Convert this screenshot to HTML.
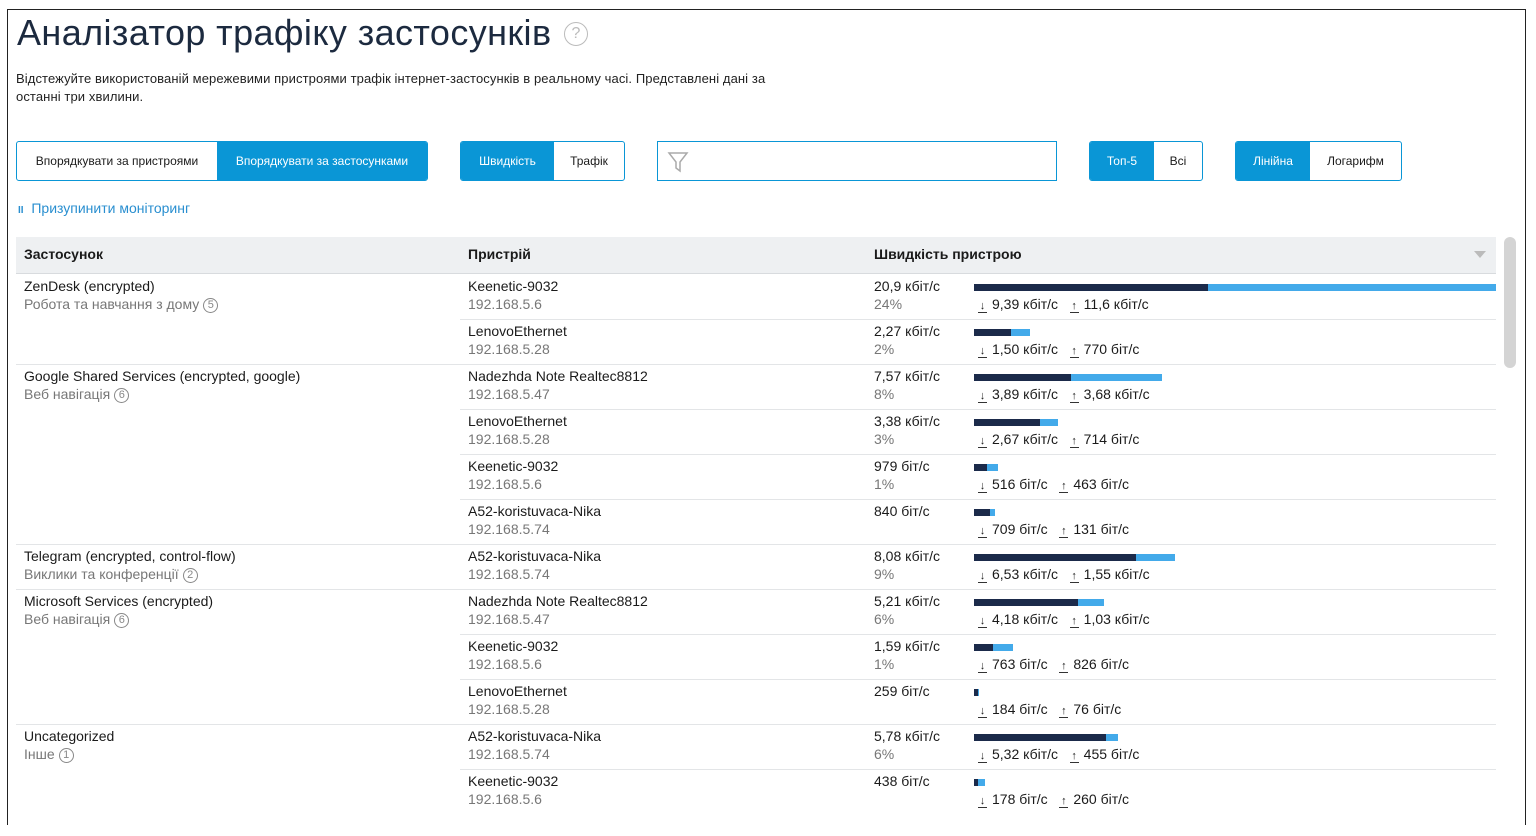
<!DOCTYPE html>
<html><head><meta charset="utf-8"><style>
*{box-sizing:border-box;margin:0;padding:0}
body{width:1536px;height:836px;background:#fff;font-family:"Liberation Sans",sans-serif;color:#1a1a1a;position:relative;overflow:hidden}
.frame{position:absolute;left:7px;top:9px;width:1519px;height:816px;border:1px solid #222;border-bottom:none}
.abs{position:absolute;white-space:nowrap}
h1{position:absolute;left:17px;top:12px;font-size:36px;font-weight:normal;color:#1c2a3f;letter-spacing:0.4px;white-space:nowrap}
.q{position:absolute;left:564px;top:22px;width:24px;height:24px;border:1.5px solid #bbb;border-radius:50%;color:#bbb;font-size:16px;text-align:center;line-height:21px}
.desc{position:absolute;left:16px;top:70px;font-size:13px;line-height:18px;color:#222;width:780px;letter-spacing:0.1px}
.seg{position:absolute;top:141px;height:40px;border:1px solid #0a96d6;border-radius:3px;display:flex;overflow:hidden;font-size:12px}
.seg div{display:flex;align-items:center;justify-content:center}
.on{background:#0a96d6;color:#fff}
.filter{position:absolute;left:657px;top:141px;width:400px;height:40px;border:1px solid #0a96d6}
.pause{position:absolute;left:18px;top:200px;font-size:14px;color:#2a8fd0}
.th{position:absolute;left:16px;top:237px;width:1480px;height:37px;background:#eef0f2;border-bottom:1px solid #d8dbde;font-size:14px;font-weight:bold}
.th span{position:absolute;top:9px}
.row{position:absolute;height:45px;font-size:14px}
.l1{position:absolute;top:4px;color:#1a1a1a}
.l2{position:absolute;top:22px;color:#777}
.bar{position:absolute;top:10px;height:7px}
.d{background:#1b2a4a}.u{background:#43aaea}
.sp{position:absolute;top:22px;color:#1a1a1a;font-size:14px}
.hr{position:absolute;height:1px;background:#e3e5e7}
.c{display:inline-block;width:15px;height:15px;border:1px solid #888;border-radius:50%;font-size:11px;line-height:13px;text-align:center;color:#888;vertical-align:1px;margin-left:4px}
</style></head><body>
<div class="frame"></div>
<h1>Аналізатор трафіку застосунків</h1>
<div class="q">?</div>
<div class="desc">Відстежуйте використованій мережевими пристроями трафік інтернет-застосунків в реальному часі. Представлені дані за останні три хвилини.</div>
<div class="seg" style="left:16px;width:412px"><div style="width:200px">Впорядкувати за пристроями</div><div class="on" style="flex:1">Впорядкувати за застосунками</div></div>
<div class="seg" style="left:460px;width:165px"><div class="on" style="width:93px">Швидкість</div><div style="flex:1">Трафік</div></div>
<div class="filter"><svg width="24" height="24" style="position:absolute;left:9px;top:8px"><path d="M2 3 H20 L13 12 V21 L9 18 V12 Z" fill="none" stroke="#aaa" stroke-width="1.5"/></svg></div>
<div class="seg" style="left:1089px;width:114px"><div class="on" style="width:64px">Топ-5</div><div style="flex:1">Всі</div></div>
<div class="seg" style="left:1235px;width:167px"><div class="on" style="width:74px">Лінійна</div><div style="flex:1">Логарифм</div></div>
<div class="pause"><span style="font-size:10px;font-weight:bold">II</span>&nbsp; Призупинити моніторинг</div>
<div class="th"><span style="left:8px">Застосунок</span><span style="left:452px">Пристрій</span><span style="left:858px">Швидкість пристрою</span><span style="left:1458px;top:14px;width:0;height:0;border-left:6px solid transparent;border-right:6px solid transparent;border-top:7px solid #bbb"></span></div>
<div class="abs" style="left:1504px;top:237px;width:12px;height:131px;background:#d4d4d4;border-radius:6px"></div>
<div id="rows"></div>
<script>
const R=[
["ZenDesk (encrypted)","Робота та навчання з дому",5,"Keenetic-9032","192.168.5.6","20,9 кбіт/с","24%",234,522,"9,39 кбіт/с","11,6 кбіт/с",1],
[0,0,0,"LenovoEthernet","192.168.5.28","2,27 кбіт/с","2%",37,56,"1,50 кбіт/с","770 біт/с",0],
["Google Shared Services (encrypted, google)","Веб навігація",6,"Nadezhda Note Realtec8812","192.168.5.47","7,57 кбіт/с","8%",97,188,"3,89 кбіт/с","3,68 кбіт/с",1],
[0,0,0,"LenovoEthernet","192.168.5.28","3,38 кбіт/с","3%",66,84,"2,67 кбіт/с","714 біт/с",0],
[0,0,0,"Keenetic-9032","192.168.5.6","979 біт/с","1%",13,24,"516 біт/с","463 біт/с",0],
[0,0,0,"A52-koristuvaca-Nika","192.168.5.74","840 біт/с","",16,21,"709 біт/с","131 біт/с",0],
["Telegram (encrypted, control-flow)","Виклики та конференції",2,"A52-koristuvaca-Nika","192.168.5.74","8,08 кбіт/с","9%",162,201,"6,53 кбіт/с","1,55 кбіт/с",1],
["Microsoft Services (encrypted)","Веб навігація",6,"Nadezhda Note Realtec8812","192.168.5.47","5,21 кбіт/с","6%",104,130,"4,18 кбіт/с","1,03 кбіт/с",1],
[0,0,0,"Keenetic-9032","192.168.5.6","1,59 кбіт/с","1%",19,39,"763 біт/с","826 біт/с",0],
[0,0,0,"LenovoEthernet","192.168.5.28","259 біт/с","",4,5,"184 біт/с","76 біт/с",0],
["Uncategorized","Інше",1,"A52-koristuvaca-Nika","192.168.5.74","5,78 кбіт/с","6%",132,144,"5,32 кбіт/с","455 біт/с",1],
[0,0,0,"Keenetic-9032","192.168.5.6","438 біт/с","",4,11,"178 біт/с","260 біт/с",0]];
let h="";const ar=(s)=>`<span style="display:inline-block;width:9px;border-bottom:1.5px solid #333;text-align:center;font-size:11px;line-height:12px;margin-right:5px">${s}</span>`;
R.forEach((r,i)=>{const y=274+i*45;
if(i>0)h+=`<div class="hr" style="top:${y}px;left:${r[11]?16:460}px;width:${r[11]?1480:1036}px"></div>`;
h+=`<div class="row" style="top:${y}px;left:0;width:1500px">`;
if(r[0])h+=`<div class="l1" style="left:24px">${r[0]}</div><div class="l2" style="left:24px">${r[1]}<span class="c">${r[2]}</span></div>`;
h+=`<div class="l1" style="left:468px">${r[3]}</div><div class="l2" style="left:468px">${r[4]}</div>`;
h+=`<div class="l1" style="left:874px">${r[5]}</div><div class="l2" style="left:874px">${r[6]}</div>`;
h+=`<div class="bar d" style="left:974px;width:${r[7]}px"></div><div class="bar u" style="left:${974+r[7]}px;width:${r[8]-r[7]}px"></div>`;
h+=`<div class="sp" style="left:978px">${ar('↓')}${r[9]}&nbsp;&nbsp;&nbsp;${ar('↑')}${r[10]}</div></div>`;});
document.getElementById("rows").innerHTML=h;
</script>
</body></html>
